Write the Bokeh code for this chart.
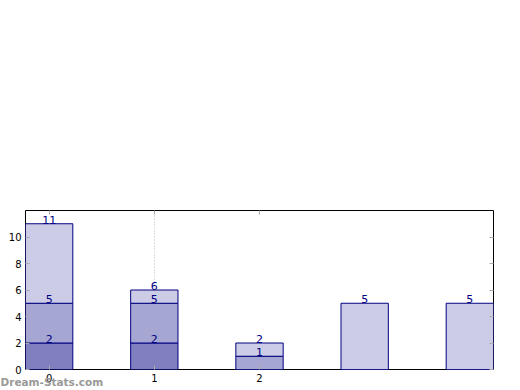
from bokeh.plotting import figure, ColumnDataSource
from bokeh.models import FixedTicker, LinearAxis, Title, Range1d
from bokeh.core.properties import value
from bokeh.embed import file_html
from bokeh.resources import INLINE

# data
positions = [0, 1, 2, 3, 4]
series_a = [2, 2, 0, 0, 0]
series_b = [3, 3, 1, 0, 0]
series_c = [6, 1, 1, 5, 5]
x_tick_values = [0, 1, 2]
x_tick_labels = ["0", "1", "2"]
y_tick_values = [0, 2, 4, 6, 8, 10]
colors = ["#8080C0", "#A6A6D2", "#CCCCE6"]

src = ColumnDataSource(dict(x=positions, a=series_a, b=series_b, c=series_c))

p = figure(width=512, height=388, output_backend="svg", toolbar_location=None,
           x_range=Range1d(-0.225, 4.225), y_range=Range1d(0, 12),
           min_border_top=210, min_border_left=25, min_border_right=19,
           min_border_bottom=19)
p.background_fill_color = "white"
p.border_fill_color = "white"
p.outline_line_color = "black"
p.outline_line_width = 1

p.vbar_stack(["a", "b", "c"], x="x", width=0.45, color=colors,
             line_color="#000080", line_width=1, source=src)

lx, ly, lt = [], [], []
for i, xv in enumerate(positions):
    cum = 0
    for s in (series_a, series_b, series_c):
        cum += s[i]
        if s[i] > 0:
            lx.append(xv)
            ly.append(cum)
            lt.append(str(cum))
p.text(x=lx, y=ly, text=lt, text_align="center", text_baseline="middle",
       y_offset=-4, text_color="#000080", text_font_size="11px",
       text_font=value("DejaVu Sans"))

for ax in (p.xaxis[0], p.yaxis[0]):
    ax.axis_line_color = None
    ax.major_tick_in = 4
    ax.major_tick_out = 0
    ax.minor_tick_line_color = None
    ax.major_tick_line_color = "#aaaaaa"
    ax.major_label_text_font = "DejaVu Sans"
    ax.major_label_text_font_size = "10px"
    ax.major_label_text_color = "black"
    ax.major_label_standoff = 4

p.xaxis.ticker = FixedTicker(ticks=x_tick_values)
p.xaxis.major_label_overrides = {v: l for v, l in zip(x_tick_values, x_tick_labels)}
p.yaxis.ticker = FixedTicker(ticks=y_tick_values)

right = LinearAxis(ticker=FixedTicker(ticks=y_tick_values), axis_line_color=None,
                   major_tick_in=4, major_tick_out=0, minor_tick_line_color=None,
                   major_tick_line_color="#aaaaaa", major_label_text_font_size="0px",
                   major_label_standoff=0)
p.add_layout(right, "right")
top = LinearAxis(ticker=FixedTicker(ticks=x_tick_values), axis_line_color=None,
                 major_tick_in=4, major_tick_out=0, minor_tick_line_color=None,
                 major_tick_line_color="#aaaaaa", major_label_text_font_size="0px",
                 major_label_standoff=0)
p.add_layout(top, "above")

p.ygrid.grid_line_color = None
p.xgrid.ticker = FixedTicker(ticks=[1])
p.xgrid.grid_line_color = "#bbbbbb"
p.xgrid.grid_line_dash = "1 2"
p.xgrid.grid_line_width = 1

p.add_layout(Title(text="Dream-Stats.com", align="left", vertical_align="top",
                   offset=-25, standoff=-17, text_color="#999999",
                   text_font="DejaVu Sans", text_font_size="10.5px",
                   text_font_style="bold"), "below")

open("out.html", "w").write(file_html(p, INLINE))
